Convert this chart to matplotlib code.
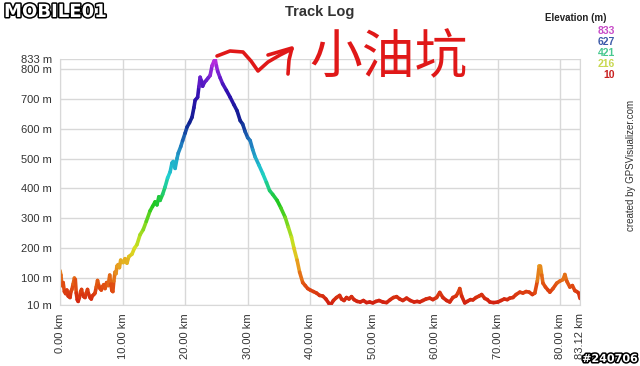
import matplotlib
matplotlib.use("Agg")
import matplotlib.pyplot as plt
import matplotlib.patheffects as pe
from matplotlib.collections import LineCollection
from matplotlib.colors import LinearSegmentedColormap, Normalize
from matplotlib.lines import Line2D
import numpy as np

# track profile (distance km, elevation m)
dist_km = [0.0, 0.15, 0.3, 0.5, 0.7, 0.9, 1.1, 1.3, 1.6, 1.75, 1.9, 2.1, 2.3, 2.45, 2.6, 2.75, 2.9,
           3.1, 3.3, 3.45, 3.6, 3.8, 4.0, 4.2, 4.4, 4.55, 4.8, 5.0, 5.15, 5.4, 5.6, 5.8, 6.0, 6.2,
           6.4, 6.6, 6.8, 7.0, 7.2, 7.45, 7.7, 7.95, 8.1, 8.3, 8.45, 8.6, 8.8, 8.95, 9.1, 9.3, 9.5,
           9.7, 9.9, 10.1, 10.4, 10.7, 11.0, 11.5, 11.9, 12.3, 12.8, 13.3, 13.8, 14.4, 14.8, 15.2,
           15.5, 15.8, 16.0, 16.4, 16.8, 17.2, 17.6, 17.9, 18.1, 18.4, 18.7, 18.9, 19.3, 19.6, 20.0,
           20.3, 20.7, 21.1, 21.4, 21.6, 22.0, 22.2, 22.4, 22.6, 22.8, 23.1, 23.4, 23.7, 24.0, 24.3,
           24.6, 24.8, 25.0, 25.2, 25.6, 26.0, 26.6, 27.2, 27.8, 28.3, 28.8, 29.2, 29.6, 30.0, 30.4,
           30.8, 31.2, 31.8, 32.4, 33.0, 33.5, 34.0, 34.7, 35.3, 36.0, 36.5, 37.0, 37.4, 37.9, 38.3,
           38.8, 39.2, 39.6, 40.0, 40.5, 41.0, 41.5, 42.0, 42.5, 43.0, 43.3, 43.7, 44.2, 44.7, 45.0,
           45.4, 45.8, 46.2, 46.6, 47.0, 47.5, 48.0, 48.5, 49.0, 49.5, 50.0, 50.5, 51.0, 51.6, 52.2,
           52.8, 53.3, 53.8, 54.3, 54.8, 55.4, 56.0, 56.6, 57.1, 57.5, 58.0, 58.5, 59.1, 59.6, 60.2,
           60.7, 61.2, 61.8, 62.3, 62.8, 63.3, 63.6, 63.9, 64.2, 64.7, 65.1, 65.6, 66.0, 66.5, 67.0,
           67.4, 67.9, 68.3, 68.7, 69.3, 70.0, 70.5, 71.0, 71.5, 71.9, 72.4, 72.9, 73.5, 74.0, 74.5,
           75.0, 75.5, 75.9, 76.3, 76.6, 76.8, 77.0, 77.2, 77.6, 78.0, 78.3, 78.8, 79.4, 79.9, 80.4,
           80.7, 81.0, 81.5, 81.9, 82.3, 82.6, 82.9, 83.12]
elev_m = [125, 110, 75, 85, 55, 48, 60, 40, 35, 55, 62, 80, 100, 95, 50, 28, 22,
          35, 55, 62, 45, 38, 35, 50, 62, 48, 35, 30, 40, 45, 50, 70, 92, 75,
          65, 60, 72, 78, 65, 85, 75, 110, 80, 58, 55, 90, 120, 115, 140, 145, 135,
          160, 155, 152, 165, 150, 172, 180, 200, 212, 245, 262, 290, 325, 340, 355,
          345, 372, 360, 380, 405, 435, 455, 485, 490, 467, 500, 518, 540, 560, 585,
          605, 620, 638, 670, 695, 705, 740, 772, 760, 742, 755, 762, 770, 778, 810,
          825, 833, 810, 792, 770, 750, 728, 705, 680, 660, 627, 615, 590, 570, 560,
          530, 505, 478, 450, 420, 393, 380, 360, 335, 303, 270, 237, 200, 160, 120,
          85, 75, 65, 60, 55, 50, 42, 40, 30, 15, 12, 25, 35, 42, 30,
          25, 35, 30, 38, 28, 22, 20, 25, 18, 20, 17, 22, 25, 20, 18,
          28, 35, 38, 30, 25, 33, 25, 20, 22, 20, 25, 30, 33, 28, 35,
          52, 35, 25, 20, 35, 40, 50, 65, 40, 17, 22, 28, 27, 35, 40,
          45, 32, 28, 20, 18, 20, 25, 30, 28, 33, 35, 45, 53, 50, 55,
          53, 45, 50, 90, 140, 140, 110, 83, 70, 60, 53, 65, 83, 90, 95,
          112, 90, 70, 75, 58, 55, 50, 32]

y_ticks = [10, 100, 200, 300, 400, 500, 600, 700, 800, 833]
x_ticks = [0, 10, 20, 30, 40, 50, 60, 70, 80, 83.12]
legend_vals = [833, 627, 421, 216, 10]
legend_cols = ["#c84cc8", "#3c5aa8", "#48c890", "#c8d850", "#c82020"]

plt.rcParams['font.family'] = ['Liberation Sans', 'DejaVu Sans']

W, H = 640, 366
fig = plt.figure(figsize=(W / 100, H / 100), dpi=100)
fig.patch.set_facecolor("white")

def fx(x):
    return x / W

def fy(y):
    return 1 - y / H

ax = fig.add_axes([fx(60), fy(305), fx(580) - fx(60), fy(59) - fy(305)])
ax.set_xlim(0, 83.12)
ax.set_ylim(10, 833)

cmap = LinearSegmentedColormap.from_list("elev", [
    (0.0, "#d01c10"), (0.07, "#e04a10"), (0.16, "#e8a020"), (0.23, "#d8e020"),
    (0.33, "#80d820"), (0.41, "#20c820"), (0.53, "#20d0d0"), (0.65, "#2080c0"),
    (0.75, "#102090"), (0.86, "#3010b0"), (0.93, "#7020d0"), (1.0, "#c030e0")])
norm = Normalize(10, 833)

x = np.array(dist_km)
y = np.array(elev_m)
pts = np.column_stack([x, y]).reshape(-1, 1, 2)
segs = np.concatenate([pts[:-1], pts[1:]], axis=1)
lc = LineCollection(segs, cmap=cmap, norm=norm, linewidth=2.6, capstyle="round", joinstyle="round")
lc.set_array((y[:-1] + y[1:]) / 2)
ax.add_collection(lc)

ax.set_yticks(y_ticks)
ax.set_yticklabels(["{0} m".format(v) for v in y_ticks])
ax.set_xticks(x_ticks)
ax.set_xticklabels(["{0:.2f} km".format(v) for v in x_ticks], rotation=90)
ax.tick_params(length=0, labelsize=8, colors="#333333", pad=6)
ax.grid(True, color="#d8d8d8", linewidth=1)
ax.set_axisbelow(True)
for s in ax.spines.values():
    s.set_color("#d8d8d8")
ax.spines["top"].set_visible(False)

fig.text(fx(320), fy(12), "Track Log", ha="center", va="center", fontsize=10.5, fontweight="bold", color="#333333")

fig.text(fx(576), fy(18), "Elevation (m)", ha="center", va="center", fontsize=7, fontweight="bold", color="#222222")
for i in range(len(legend_vals)):
    fig.text(fx(615), fy(31 + i * 11), str(legend_vals[i]), ha="right", va="center",
             fontsize=7.5, fontweight="bold", color=legend_cols[i])

fig.text(fx(631), fy(165), "created by GPSVisualizer.com", rotation=90, ha="center", va="center",
         fontsize=7, color="#333333")

outline = [pe.withStroke(linewidth=2.2, foreground="black")]
fig.text(fx(4), fy(12), "MOBILE01", ha="left", va="center", fontsize=13, fontweight="bold",
         color="white", path_effects=outline, family="DejaVu Sans")
fig.text(fx(638), fy(359), "#240706", ha="right", va="center", fontsize=8, fontweight="bold",
         color="white", path_effects=outline, family="DejaVu Sans")

# red hand-drawn arrow and label
red = "#e01818"
def stroke(pxs):
    fig.add_artist(Line2D([fx(p[0]) for p in pxs], [fy(p[1]) for p in pxs],
                          color=red, linewidth=2.6, solid_capstyle="round", solid_joinstyle="round"))
stroke([(217, 56), (230, 51), (243, 52), (251, 61), (258, 71), (268, 62), (280, 55), (292, 49)])
stroke([(268, 55), (292, 48), (289, 60), (288, 74)])
fig.text(fx(388), fy(58), "小油坑", ha="center", va="center", fontsize=38, color=red,
         fontweight="light", family=["Noto Sans CJK TC", "DejaVu Sans"])

fig.savefig("out.png", dpi=100)
